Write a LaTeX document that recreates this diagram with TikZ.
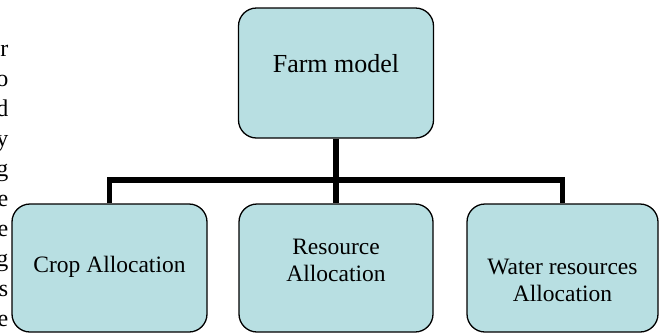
\documentclass[tikz,border=0pt]{standalone}
\usepackage{fontspec}
\setmainfont{Liberation Serif}
\definecolor{boxfill}{RGB}{184,223,226}
\tikzset{
  box/.style={draw=black, line width=1.3pt, fill=boxfill, rounded corners=18pt, inner sep=0pt},
  conn/.style={draw=black, line width=5.5pt},
  toptxt/.style={font=\fontsize{26}{30}\selectfont, inner sep=0pt, align=center},
  bottxt/.style={font=\fontsize{23.5}{27}\selectfont, inner sep=0pt, align=center},
  edgetxt/.style={font=\fontsize{24}{30}\selectfont, inner sep=0pt, anchor=base east}
}
\begin{document}
\begin{tikzpicture}[x=1pt,y=-1pt]
\useasboundingbox (0,0) rectangle (659,333);
\node[box, minimum width=195pt, minimum height=130pt] (farm) at (336,73) {};
\node[box, minimum width=195pt, minimum height=128pt] (crop) at (109.5,268) {};
\node[box, minimum width=194pt, minimum height=128pt] (res) at (336,268) {};
\node[box, minimum width=191pt, minimum height=128pt] (water) at (562.5,268) {};
\coordinate (bar) at (109.5,180);
\draw[conn] (farm.south) -- (res.north);
\draw[conn] (crop.north) -- (bar) -| (water.north);
% texts
\node[toptxt] (farmt) at (336,64) {Farm model};
\node[bottxt] (cropt) at (109.5,267) {Crop Allocation};
\node[bottxt] (rest) at (336,260) {Resource\\Allocation};
\node[bottxt] (watert) at (562.5,280) {Water resources\\Allocation};
% cut-off text fragments at the left edge
\node[edgetxt] (l1) at (8.5,56) {r};
\node[edgetxt] (l2) at (8.5,86) {o};
\node[edgetxt] (l3) at (8.5,116) {d};
\node[edgetxt] (l4) at (8.5,146) {y};
\node[edgetxt] (l5) at (8.5,176) {g};
\node[edgetxt] (l6) at (8.5,206) {e};
\node[edgetxt] (l7) at (8.5,236) {e};
\node[edgetxt] (l8) at (8.5,266) {g};
\node[edgetxt] (l9) at (8.5,296) {s};
\node[edgetxt] (l10) at (8.5,326) {e};
\end{tikzpicture}
\end{document}
